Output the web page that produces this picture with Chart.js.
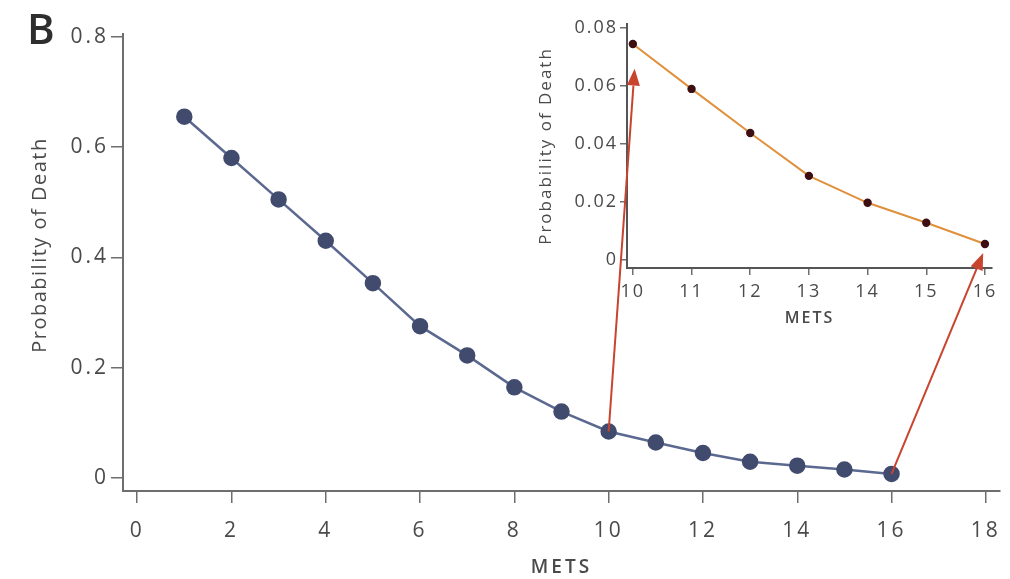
<!DOCTYPE html>
<html>
<head>
<meta charset="utf-8">
<script src="https://cdn.jsdelivr.net/npm/chart.js@4/dist/chart.umd.min.js"></script>
<style>
  html, body { margin: 0; padding: 0; background: #fff; }
  #wrap { position: relative; width: 1010px; height: 579px; overflow: hidden; }
  canvas { position: absolute; }
  #panel { position: absolute; left: 27px; top: -1px; font: 600 42px "Open Sans", sans-serif; color: #2e2e2e; }
</style>
</head>
<body>
<div id="wrap">
  <canvas id="main" width="1010" height="579" style="left:0;top:0"></canvas>
  <canvas id="inset" width="490" height="330" style="left:520px;top:0"></canvas>
  <canvas id="arrows" width="1010" height="579" style="left:0;top:0;pointer-events:none"></canvas>
  <div id="panel">B</div>
</div>
<script>
// main panel: probability of death by METS
const mets = [1, 2, 3, 4, 5, 6, 7, 8, 9, 10, 11, 12, 13, 14, 15, 16];
const probDeath = [0.655, 0.58, 0.505, 0.43, 0.353, 0.275, 0.222, 0.164, 0.12, 0.084, 0.064, 0.045, 0.029, 0.022, 0.015, 0.007];

// inset: zoom on 10-16 METS
const insetMets = [10, 11, 12, 13, 14, 15, 16];
const insetProb = [0.0745, 0.059, 0.0438, 0.029, 0.0197, 0.0128, 0.0055];

// arrows: from a main-chart point [x, y] to an inset point [x, y]
const arrowFrom = [[10, 0.084], [16, 0.007]];
const arrowTo = [[10.03, 0.066], [15.97, 0.0024]];

const FONT = "'Open Sans', sans-serif";
const AXIS = "#6e6e6e";
const TEXT = "#4a4a4a";

function pts(xs, ys) {
  return xs.map((x, i) => ({ x: x, y: ys[i] }));
}

// the original lettering is spaced out a bit; canvas resets it on resize so set it each pass
function spacing(px) {
  return {
    id: "spacing",
    beforeUpdate(chart) { chart.ctx.letterSpacing = px; },
    beforeDraw(chart) { chart.ctx.letterSpacing = px; }
  };
}

// keep the plot box fixed, labels may overhang
function fixX(h) {
  return s => { s.height = h; s.paddingLeft = 0; s.paddingRight = 0; };
}
function fixY(w) {
  return s => { s.width = w; s.paddingTop = 0; s.paddingBottom = 0; };
}

// draws the rotated y title a bit above the axis centre, like the original
const mainYTitle = {
  id: "mainYTitle",
  afterDraw(chart) {
    const ctx = chart.ctx;
    ctx.save();
    ctx.letterSpacing = "1.5px";
    ctx.translate(40, 245);
    ctx.rotate(-Math.PI / 2);
    ctx.font = "20px " + FONT;
    ctx.fillStyle = TEXT;
    ctx.textAlign = "center";
    ctx.textBaseline = "middle";
    ctx.fillText("Probability of Death", 0, 0);
    ctx.restore();
  }
};

const mainChart = new Chart(document.getElementById("main"), {
  type: "line",
  data: {
    datasets: [{
      data: pts(mets, probDeath),
      borderColor: "#5b6990",
      borderWidth: 2.5,
      pointRadius: 7,
      pointBackgroundColor: "#414b6e",
      pointBorderColor: "#414b6e",
      tension: 0
    }]
  },
  options: {
    responsive: false,
    animation: false,
    layout: { padding: { left: 0, right: 10, top: 34, bottom: 0 } },
    plugins: { legend: { display: false }, tooltip: { enabled: false } },
    scales: {
      x: {
        type: "linear",
        min: -0.3,
        max: 18.3,
        afterFit: fixX(88),
        ticks: { stepSize: 2, includeBounds: false, autoSkip: false, maxRotation: 0,
                 color: TEXT, font: { family: FONT, size: 21 }, padding: 15 },
        grid: { drawOnChartArea: false, color: AXIS, lineWidth: 1.5, tickLength: 12 },
        border: { color: AXIS, width: 2 },
        title: { display: true, text: "METS", color: TEXT,
                 font: { family: FONT, size: 19, weight: "600" }, padding: { top: 0, bottom: 0 } }
      },
      y: {
        min: -0.024,
        max: 0.805,
        afterFit: fixY(123),
        ticks: { stepSize: 0.2, includeBounds: false, autoSkip: false, color: TEXT,
                 font: { family: FONT, size: 21 }, padding: 2,
                 callback: v => v === 0 ? "0" : v.toFixed(1) },
        grid: { drawOnChartArea: false, color: AXIS, lineWidth: 1.5, tickLength: 12 },
        border: { color: AXIS, width: 2 }
      }
    }
  },
  plugins: [spacing("3px"), mainYTitle]
});

const insetChart = new Chart(document.getElementById("inset"), {
  type: "line",
  data: {
    datasets: [{
      data: pts(insetMets, insetProb),
      borderColor: "#e0903c",
      borderWidth: 2,
      pointRadius: 3.2,
      pointBackgroundColor: "#3d0f12",
      pointBorderColor: "#3d0f12",
      tension: 0
    }]
  },
  options: {
    responsive: false,
    animation: false,
    layout: { padding: { left: 0, right: 18, top: 24, bottom: 0 } },
    plugins: { legend: { display: false }, tooltip: { enabled: false } },
    scales: {
      x: {
        type: "linear",
        min: 9.9,
        max: 16.12,
        afterFit: fixX(62),
        ticks: { stepSize: 1, includeBounds: false, autoSkip: false, maxRotation: 0,
                 color: TEXT, font: { family: FONT, size: 18 }, padding: 6 },
        grid: { drawOnChartArea: false, color: AXIS, lineWidth: 1.5, tickLength: 7 },
        border: { color: "#555", width: 2 },
        title: { display: true, text: "METS", color: TEXT,
                 font: { family: FONT, size: 16, weight: "600" }, padding: { top: 0, bottom: 2 } }
      },
      y: {
        min: -0.0028,
        max: 0.0814,
        afterFit: fixY(107),
        ticks: { stepSize: 0.02, includeBounds: false, autoSkip: false, color: TEXT,
                 font: { family: FONT, size: 18 }, padding: 2,
                 callback: v => v === 0 ? "0" : v.toFixed(2) },
        grid: { drawOnChartArea: false, color: AXIS, lineWidth: 1.5, tickLength: 7 },
        border: { color: "#555", width: 2 },
        title: { display: true, text: "Probability of Death", color: TEXT,
                 font: { family: FONT, size: 17 }, padding: { top: 16, bottom: 0 } }
      }
    }
  },
  plugins: [spacing("2px")]
});

// ------------------------------
// Red arrows linking the two panels
// ------------------------------
function drawArrows() {
  const canvas = document.getElementById("arrows");
  const ctx = canvas.getContext("2d");
  const insetEl = document.getElementById("inset");
  const ox = insetEl.offsetLeft;
  const oy = insetEl.offsetTop;
  ctx.strokeStyle = "#c8442f";
  ctx.fillStyle = "#c8442f";
  ctx.lineWidth = 2;

  arrowFrom.forEach((from, i) => {
    const to = arrowTo[i];
    const x1 = mainChart.scales.x.getPixelForValue(from[0]);
    const y1 = mainChart.scales.y.getPixelForValue(from[1]);
    const x2 = ox + insetChart.scales.x.getPixelForValue(to[0]);
    const y2 = oy + insetChart.scales.y.getPixelForValue(to[1]);
    const ang = Math.atan2(y2 - y1, x2 - x1);
    const headLen = 17, headW = 6.5;
    const bx = x2 - headLen * Math.cos(ang);
    const by = y2 - headLen * Math.sin(ang);

    ctx.beginPath();
    ctx.moveTo(x1, y1);
    ctx.lineTo(bx, by);
    ctx.stroke();

    ctx.beginPath();
    ctx.moveTo(x2, y2);
    ctx.lineTo(bx + headW * Math.sin(ang), by - headW * Math.cos(ang));
    ctx.lineTo(bx - headW * Math.sin(ang), by + headW * Math.cos(ang));
    ctx.closePath();
    ctx.fill();
  });
}

drawArrows();
</script>
</body>
</html>
